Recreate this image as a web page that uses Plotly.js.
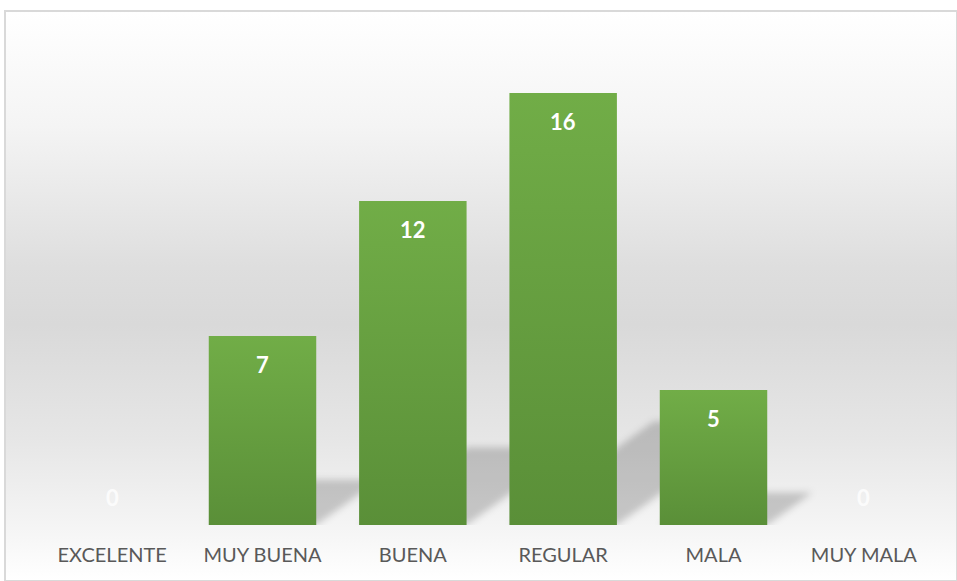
<!DOCTYPE html>
<html><head><meta charset="utf-8">
<script src="https://cdn.plot.ly/plotly-3.0.1.min.js"></script>
<style>
html,body{margin:0;padding:0;background:#fff;}
#wrap{position:absolute;left:4px;top:10px;width:950px;height:568px;border:2px solid #d9d9d9;
background:linear-gradient(to bottom,#ffffff 0%,#f4f4f4 20%,#dedede 45%,#d9d9d9 55%,#e6e6e6 75%,#f6f6f6 92%,#ffffff 100%);}
#chart{position:absolute;left:0;top:0;width:957px;height:581px;}
</style></head>
<body>
<div id="wrap"></div>
<div id="chart"></div>
<script>
const categories = ["EXCELENTE","MUY BUENA","BUENA","REGULAR","MALA","MUY MALA"];
const values = [0,7,12,16,5,0];

const BARGAP = 0.285;
const HALF = (1 - BARGAP) / 2;

const annotations = categories.map((c,i)=>({
  x:c, y:values[i], xref:'x', yref:'y', text:'<b>'+values[i]+'</b>', showarrow:false,
  yshift: values[i] > 0 ? -28 : 28,
  font:{family:'Lato',size:22,color: values[i] > 0 ? '#ffffff' : 'rgba(255,255,255,0.8)'}
}));

// soft cast shadows behind each bar (projected up-right), derived from the bar values
const shapes = values.map((v,i)=>{
  if (v <= 0) return null;
  const rise = v * 0.24, shift = v * 0.06;
  return {type:'path', xref:'x', yref:'y', layer:'below', line:{width:0},
    fillcolor:'rgba(0,0,0,0.19)',
    path:`M ${i-HALF} 0 L ${i+HALF} 0 L ${i+HALF+shift} ${rise} L ${i-HALF+shift} ${rise} Z`};
}).filter(Boolean);

const trace = {
  type:'bar', x:categories, y:values,
  marker:{color:'#66a243', line:{width:0}},
  hoverinfo:'none'
};

const layout = {
  width:957, height:581,
  margin:{l:37,r:18,t:39,b:56},
  paper_bgcolor:'rgba(0,0,0,0)', plot_bgcolor:'rgba(0,0,0,0)',
  bargap:BARGAP,
  showlegend:false,
  xaxis:{showgrid:false, zeroline:false, showline:false, ticks:'', ticklabelstandoff:16,
         tickfont:{family:'Lato',size:20,color:'#595959'}, fixedrange:true},
  yaxis:{range:[0,18], visible:false, showgrid:false, zeroline:false, fixedrange:true},
  annotations: annotations,
  shapes: shapes
};

Plotly.newPlot('chart',[trace],layout,{displayModeBar:false,staticPlot:true}).then(gd=>{
  const svg = gd.querySelector('svg.main-svg');
  const ns='http://www.w3.org/2000/svg';
  let defs = svg.querySelector('defs');
  const lg=document.createElementNS(ns,'linearGradient');
  lg.setAttribute('id','barg'); lg.setAttribute('x1','0'); lg.setAttribute('y1','0');
  lg.setAttribute('x2','0'); lg.setAttribute('y2','1');
  [['0','#71ad47'],['1','#5a8f38']].forEach(([o,c])=>{
    const s=document.createElementNS(ns,'stop'); s.setAttribute('offset',o); s.setAttribute('stop-color',c); lg.appendChild(s);
  });
  defs.appendChild(lg);
  const f=document.createElementNS(ns,'filter');
  f.setAttribute('id','blr'); f.setAttribute('x','-30%'); f.setAttribute('y','-30%'); f.setAttribute('width','160%'); f.setAttribute('height','160%');
  const gb=document.createElementNS(ns,'feGaussianBlur'); gb.setAttribute('stdDeviation','3.5');
  f.appendChild(gb); defs.appendChild(f);
  gd.querySelectorAll('.bars .point path').forEach(p=>{ p.style.fill='url(#barg)'; });
  gd.querySelectorAll('.shapelayer path').forEach(p=>{ p.setAttribute('filter','url(#blr)'); });
});
</script>
</body></html>
